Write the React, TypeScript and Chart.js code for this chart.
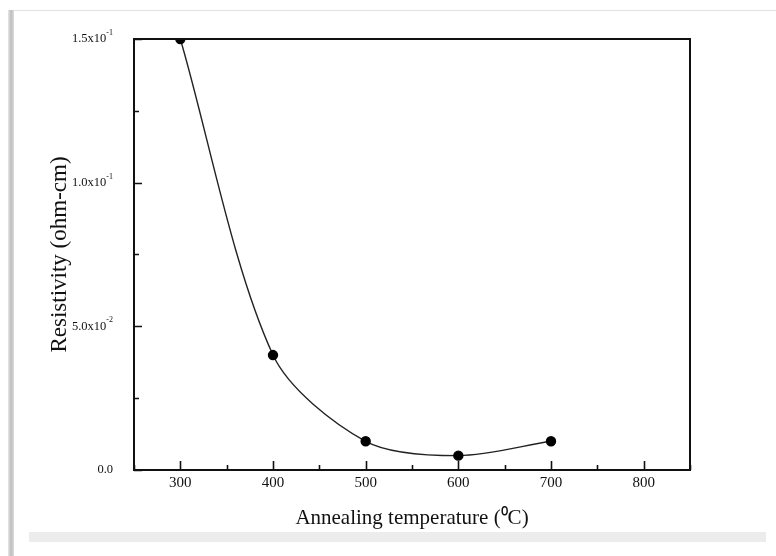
import React, { useEffect, useRef } from "react";
import { Chart, registerables } from "chart.js";

Chart.register(...registerables);

const temperatures = [300, 400, 500, 600, 700];
const resistivity = [0.15, 0.04, 0.01, 0.005, 0.01];

const xTickValues = [300, 400, 500, 600, 700, 800];
const xTickLabels = ["300", "400", "500", "600", "700", "800"];
const yTickValues = [0, 0.05, 0.1, 0.15];
const yTickMantissas = ["0.0", "5.0x10", "1.0x10", "1.5x10"];
const yTickExponents = ["", "-2", "-1", "-1"];

const xTitle = "Annealing temperature (\u2070C)";
const yTitle = "Resistivity (ohm-cm)";

const FONT = "'Liberation Serif', 'Times New Roman', serif";

const near = (a: number, b: number) => Math.abs(a - b) < 1e-9;

const frameTicks = {
  id: "frameTicks",
  afterDraw(chart: any) {
    const { ctx, chartArea, scales } = chart;
    const x = scales.x;
    const y = scales.y;
    ctx.save();
    ctx.strokeStyle = "#111";
    ctx.lineWidth = 1.6;
    ctx.beginPath();
    x.ticks.forEach((t: any) => {
      const px = Math.round(x.getPixelForValue(t.value)) + 0.5;
      const major = xTickValues.some((v) => near(v, t.value));
      const len = major ? 9 : 5;
      ctx.moveTo(px, chartArea.bottom);
      ctx.lineTo(px, chartArea.bottom - len);
    });
    y.ticks.forEach((t: any) => {
      const py = Math.round(y.getPixelForValue(t.value)) + 0.5;
      const major = yTickValues.some((v) => near(v, t.value));
      const len = major ? 8 : 5;
      ctx.moveTo(chartArea.left, py);
      ctx.lineTo(chartArea.left + len, py);
    });
    ctx.stroke();
    ctx.lineWidth = 2;
    ctx.strokeRect(chartArea.left, chartArea.top, chartArea.right - chartArea.left, chartArea.bottom - chartArea.top);

    // y tick labels with superscript exponents
    ctx.fillStyle = "#111";
    ctx.textBaseline = "middle";
    ctx.textAlign = "right";
    const xr = chartArea.left - 21;
    yTickValues.forEach((v, i) => {
      const py = y.getPixelForValue(v);
      ctx.font = `8px ${FONT}`;
      const exp = yTickExponents[i];
      const ew = exp ? ctx.measureText(exp).width : 0;
      if (exp) ctx.fillText(exp, xr, py - 6);
      ctx.font = `12.5px ${FONT}`;
      ctx.fillText(yTickMantissas[i], xr - ew, py);
    });
    ctx.restore();
  },
};

export default function App() {
  const ref = useRef<HTMLCanvasElement | null>(null);

  useEffect(() => {
    if (!ref.current) return;
    const chart = new Chart(ref.current, {
      type: "line",
      data: {
        datasets: [
          {
            data: temperatures.map((t, i) => ({ x: t, y: resistivity[i] })),
            borderColor: "#222",
            borderWidth: 1.4,
            backgroundColor: "#000",
            pointBackgroundColor: "#000",
            pointBorderColor: "#000",
            pointRadius: 4.5,
            tension: 0.3,
            fill: false,
          },
        ],
      },
      options: {
        animation: false,
        responsive: false,
        maintainAspectRatio: false,
        layout: { padding: { left: 36, top: 39, right: 86, bottom: 20 } },
        plugins: { legend: { display: false }, tooltip: { enabled: false } },
        scales: {
          x: {
            type: "linear",
            min: 250,
            max: 850,
            afterBuildTicks: (scale: any) => {
              const ticks = [];
              for (let v = 250; v <= 850; v += 50) ticks.push({ value: v });
              scale.ticks = ticks;
            },
            afterFit: (scale: any) => {
              scale.height = 66;
            },
            ticks: {
              autoSkip: false,
              maxRotation: 0,
              padding: 4,
              color: "#111",
              font: { family: FONT, size: 15 },
              callback: (v: any) => {
                const i = xTickValues.findIndex((t) => near(t, Number(v)));
                return i >= 0 ? xTickLabels[i] : "";
              },
            },
            grid: { display: false, drawTicks: false },
            border: { display: false },
            title: {
              display: true,
              text: xTitle,
              color: "#111",
              font: { family: FONT, size: 21 },
              padding: { top: 0, bottom: 5 },
            },
          },
          y: {
            type: "linear",
            min: 0,
            max: 0.15,
            afterBuildTicks: (scale: any) => {
              const ticks = [];
              for (let i = 0; i <= 6; i++) ticks.push({ value: i * 0.025 });
              scale.ticks = ticks;
            },
            afterFit: (scale: any) => {
              scale.width = 98;
            },
            ticks: { display: false },
            grid: { display: false, drawTicks: false },
            border: { display: false },
            title: {
              display: true,
              text: yTitle,
              color: "#111",
              font: { family: FONT, size: 23 },
              padding: { top: 10, bottom: 0 },
            },
          },
        },
      },
      plugins: [frameTicks],
    } as any);
    return () => chart.destroy();
  }, []);

  return (
    <div style={{ position: "absolute", left: 0, top: 0, width: 776, height: 556, background: "#fff", overflow: "hidden" }}>
      <div style={{ position: "absolute", left: 9, top: 10, width: 767, height: 1, background: "#e2e2e2" }} />
      <div
        style={{
          position: "absolute",
          left: 8,
          top: 10,
          width: 6,
          height: 546,
          background: "linear-gradient(to right, #e8e8e8, #bdbdbd 50%, #dcdcdc)",
        }}
      />
      <canvas ref={ref} width={776} height={556} style={{ position: "absolute", left: 0, top: 0 }} />
      <div style={{ position: "absolute", left: 29, top: 532, width: 737, height: 10, background: "#ececec" }} />
    </div>
  );
}
